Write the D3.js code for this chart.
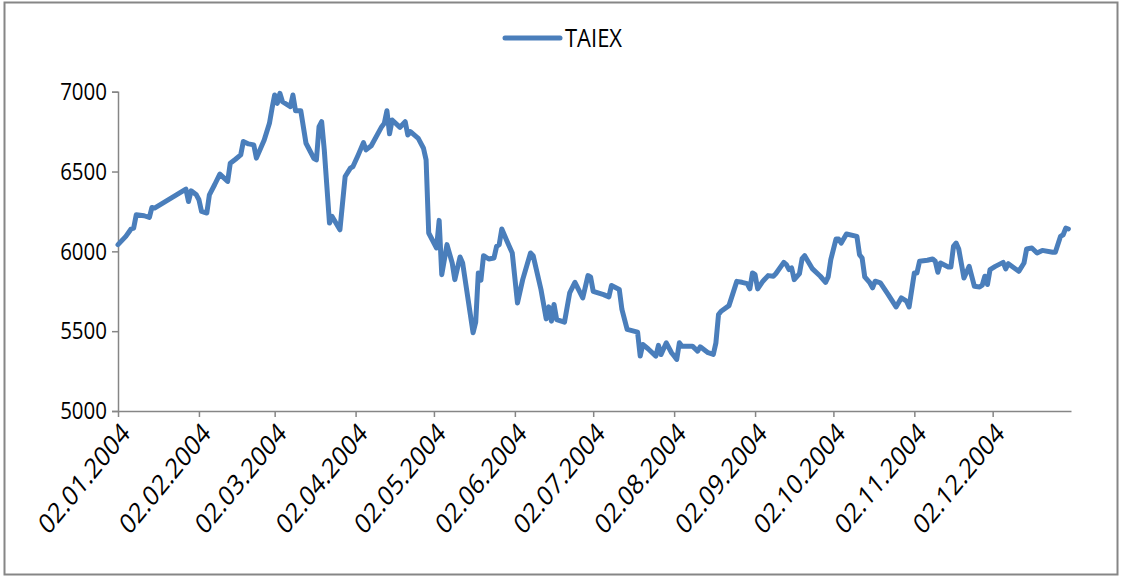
<!DOCTYPE html>
<html>
<head>
<meta charset="utf-8">
<script src="https://cdn.jsdelivr.net/npm/d3@7"></script>
<style>
  html, body { margin: 0; padding: 0; background: #fff; }
  svg { display: block; }
  text { font-family: "Open Sans", "Liberation Sans", sans-serif; fill: #000; }
</style>
</head>
<body>
<svg id="chart" width="1125" height="579"></svg>
<script>
const seriesName = "TAIEX";

const dates = [
  "2004-01-02","2004-01-05","2004-01-07","2004-01-08","2004-01-09","2004-01-12","2004-01-14","2004-01-15","2004-01-16",
  "2004-01-28","2004-01-29","2004-01-30","2004-02-01","2004-02-02","2004-02-03","2004-02-05","2004-02-06","2004-02-08",
  "2004-02-10","2004-02-13","2004-02-14","2004-02-16","2004-02-18","2004-02-19","2004-02-21","2004-02-23","2004-02-24",
  "2004-02-27","2004-02-29","2004-03-01","2004-03-02","2004-03-03","2004-03-04","2004-03-05","2004-03-08","2004-03-09",
  "2004-03-10","2004-03-12","2004-03-14","2004-03-17","2004-03-18","2004-03-19","2004-03-20","2004-03-21","2004-03-23",
  "2004-03-24","2004-03-27","2004-03-29","2004-03-31","2004-04-01","2004-04-03","2004-04-05","2004-04-06","2004-04-08",
  "2004-04-12","2004-04-13","2004-04-14","2004-04-15","2004-04-16","2004-04-19","2004-04-21","2004-04-22","2004-04-23",
  "2004-04-26","2004-04-28","2004-04-29","2004-04-30","2004-05-03","2004-05-04","2004-05-05","2004-05-07","2004-05-09",
  "2004-05-10","2004-05-12","2004-05-13","2004-05-17","2004-05-18","2004-05-19","2004-05-20","2004-05-21","2004-05-23",
  "2004-05-25","2004-05-26","2004-05-27","2004-05-28","2004-05-30","2004-06-01","2004-06-03","2004-06-05","2004-06-08",
  "2004-06-09","2004-06-12","2004-06-14","2004-06-15","2004-06-16","2004-06-17","2004-06-18","2004-06-21","2004-06-23",
  "2004-06-25","2004-06-28","2004-06-30","2004-07-01","2004-07-02","2004-07-06","2004-07-08","2004-07-09","2004-07-12",
  "2004-07-13","2004-07-15","2004-07-19","2004-07-20","2004-07-21","2004-07-23","2004-07-26","2004-07-27","2004-07-28",
  "2004-07-30","2004-08-01","2004-08-02","2004-08-03","2004-08-04","2004-08-05","2004-08-09","2004-08-11","2004-08-12",
  "2004-08-15","2004-08-17","2004-08-18","2004-08-19","2004-08-20","2004-08-23","2004-08-26","2004-08-28","2004-08-30",
  "2004-08-31","2004-09-01","2004-09-02","2004-09-03","2004-09-05","2004-09-07","2004-09-09","2004-09-10","2004-09-13",
  "2004-09-14","2004-09-15","2004-09-16","2004-09-17","2004-09-19","2004-09-20","2004-09-21","2004-09-24","2004-09-27",
  "2004-09-29","2004-09-30","2004-10-01","2004-10-03","2004-10-04","2004-10-05","2004-10-07","2004-10-11","2004-10-12",
  "2004-10-13","2004-10-14","2004-10-16","2004-10-17","2004-10-18","2004-10-20","2004-10-23","2004-10-26","2004-10-28",
  "2004-10-30","2004-10-31","2004-11-02","2004-11-03","2004-11-04","2004-11-07","2004-11-09","2004-11-10","2004-11-11",
  "2004-11-12","2004-11-15","2004-11-16","2004-11-17","2004-11-18","2004-11-19","2004-11-21","2004-11-23","2004-11-25",
  "2004-11-27","2004-11-28","2004-11-29","2004-11-30","2004-12-01","2004-12-03","2004-12-06","2004-12-07","2004-12-08",
  "2004-12-12","2004-12-14","2004-12-15","2004-12-17","2004-12-19","2004-12-21","2004-12-25","2004-12-26","2004-12-28",
  "2004-12-29","2004-12-30","2004-12-31"
];

const values = [
  6042,6094,6140,6146,6229,6223,6212,6275,6271,
  6390,6312,6379,6354,6323,6250,6240,6354,6417,
  6484,6438,6552,6577,6604,6688,6673,6667,6584,
  6698,6802,6896,6979,6927,6990,6937,6906,6979,
  6880,6881,6677,6583,6573,6781,6812,6636,6177,
  6219,6135,6469,6521,6531,6604,6681,6636,6661,
  6781,6802,6881,6736,6823,6777,6812,6729,6750,
  6708,6646,6573,6115,6021,6194,5854,6042,5927,
  5823,5965,5927,5490,5556,5865,5819,5973,5952,
  5958,6031,6042,6140,6063,5990,5677,5823,5990,
  5973,5761,5577,5652,5563,5667,5573,5556,5740,
  5806,5708,5848,5840,5750,5729,5715,5786,5761,
  5636,5511,5494,5344,5417,5390,5344,5411,5354,
  5427,5365,5344,5323,5427,5406,5406,5375,5402,
  5365,5354,5427,5604,5625,5660,5812,5806,5798,
  5765,5865,5854,5765,5813,5848,5844,5861,5931,
  5917,5886,5896,5823,5861,5954,5973,5890,5844,
  5806,5840,5948,6077,6077,6052,6109,6094,5979,
  5958,5840,5802,5771,5813,5802,5729,5652,5708,
  5688,5652,5865,5865,5938,5944,5952,5938,5869,
  5927,5902,5902,6031,6052,6015,5833,5906,5781,
  5777,5788,5844,5792,5886,5906,5931,5890,5923,
  5875,5927,6015,6021,5990,6006,5994,5994,6094,
  6104,6146,6140
];

const xTickDates = [
  "2004-01-02","2004-02-02","2004-03-02","2004-04-02","2004-05-02","2004-06-02",
  "2004-07-02","2004-08-02","2004-09-02","2004-10-02","2004-11-02","2004-12-02"
];
const xDomain = ["2004-01-02", "2005-01-01"];
const yTicks = [5000, 5500, 6000, 6500, 7000];
const yDomain = [5000, 7000];

(function () {
  const parse = d3.timeParse("%Y-%m-%d");
  const fmt = d3.timeFormat("%d.%m.%Y");
  const data = dates.map((d, i) => ({ date: parse(d), value: values[i] }));

  const svg = d3.select("#chart");
  const plotLeft = 118, plotRight = 1071, plotTop = 91.7, plotBottom = 411;
  const axisColor = "#868686";
  const lineColor = "#4A7EBB";
  const font = '"Open Sans", "Liberation Sans", sans-serif';
  const stretch = 1.18;

  // outer frame
  svg.append("rect")
    .attr("x", 4.5).attr("y", 2.5).attr("width", 1113).attr("height", 572)
    .attr("fill", "#fff").attr("stroke", axisColor).attr("stroke-width", 2);

  const x = d3.scaleTime().domain(xDomain.map(parse)).range([plotLeft, plotRight]);
  const y = d3.scaleLinear().domain(yDomain).range([plotBottom, plotTop]);

  // Y axis
  const yAxis = d3.axisLeft(y).tickValues(yTicks).tickSize(6).tickPadding(5).tickFormat(d3.format("d"));
  const gy = svg.append("g").attr("transform", `translate(${plotLeft},0)`).call(yAxis);
  gy.select(".domain").attr("stroke", axisColor).attr("stroke-width", 1.5);
  gy.selectAll(".tick line").attr("stroke", axisColor).attr("stroke-width", 1.5);
  gy.selectAll(".tick text")
    .style("font-family", font).style("font-size", "20.5px").attr("fill", "#000")
    .attr("transform", `scale(1,${stretch})`);

  // X axis
  const xAxis = d3.axisBottom(x).tickValues(xTickDates.map(parse)).tickSize(6).tickSizeOuter(0).tickFormat(fmt);
  const gx = svg.append("g").attr("transform", `translate(0,${plotBottom})`).call(xAxis);
  gx.select(".domain").attr("stroke", axisColor).attr("stroke-width", 1.5);
  gx.selectAll(".tick line").attr("stroke", axisColor).attr("stroke-width", 1.5);
  gx.selectAll(".tick text")
    .style("font-family", font).style("font-size", "23px").attr("fill", "#000")
    .attr("text-anchor", "end")
    .attr("dy", "0.35em")
    .attr("y", 0).attr("x", 0)
    .attr("transform", `translate(7,17) scale(1,1.22) rotate(-45)`);

  // Line
  const line = d3.line().x(d => x(d.date)).y(d => y(d.value));
  svg.append("path")
    .datum(data)
    .attr("d", line)
    .attr("fill", "none")
    .attr("stroke", lineColor)
    .attr("stroke-width", 5)
    .attr("stroke-linejoin", "round")
    .attr("stroke-linecap", "round");

  // Legend
  const lg = svg.append("g").attr("transform", "translate(505,38)");
  lg.append("line").attr("x1", 0).attr("x2", 55).attr("y1", 0).attr("y2", 0)
    .attr("stroke", lineColor).attr("stroke-width", 5).attr("stroke-linecap", "round");
  lg.append("text").attr("x", 60).attr("y", 0).attr("dy", "0.35em")
    .attr("transform", `scale(1,${stretch})`)
    .style("font-family", font).style("font-size", "22px").text(seriesName);
})();
</script>
</body>
</html>
